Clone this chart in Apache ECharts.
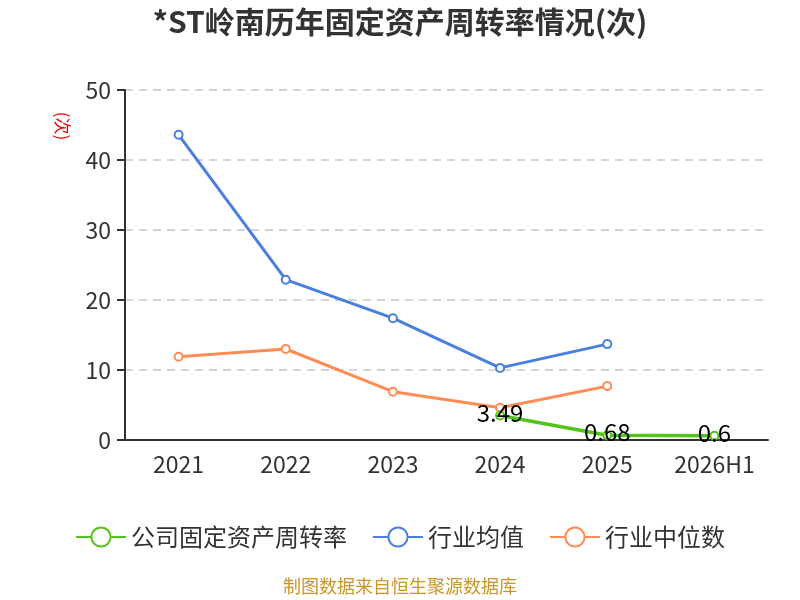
<!DOCTYPE html>
<html>
<head>
<meta charset="utf-8">
<script src="https://cdn.jsdelivr.net/npm/echarts@6/dist/echarts.min.js"></script>
<style>
html, body { margin: 0; padding: 0; }
#chart { width: 800px; height: 600px; }
</style>
</head>
<body>
<div id="chart"></div>
<script>
// 数据
var years = ['2021', '2022', '2023', '2024', '2025', '2026H1'];
var companyRate = [null, null, null, 3.49, 0.68, 0.6];
var industryAvg = [43.6, 22.9, 17.4, 10.3, 13.7, null];
var industryMedian = [11.9, 13.0, 6.9, 4.6, 7.7, null];

var myChart = echarts.init(document.getElementById('chart'));
var font = '"Noto Sans CJK SC", "Noto Sans", sans-serif';

var option = {
	textStyle: { fontFamily: font },
	title: {
		text: '*ST岭南历年固定资产周转率情况(次)',
		left: 'center',
		top: 2,
		textStyle: { fontSize: 30, fontWeight: 'bold', color: '#333', fontFamily: font }
	},
	grid: { left: 125, right: 32, top: 90, bottom: 160 },
	legend: {
		bottom: 46,
		itemWidth: 50,
		itemHeight: 24,
		itemGap: 25,
		textStyle: { fontSize: 24, color: '#333', fontFamily: font },
		data: ['公司固定资产周转率', '行业均值', '行业中位数']
	},
	graphic: [{
		type: 'text',
		x: 62,
		y: 126,
		rotation: -Math.PI / 2,
		style: { text: '(次)', fill: '#e00', fontSize: 17, fontFamily: font, textAlign: 'center', textVerticalAlign: 'middle' }
	}, {
		type: 'text',
		left: 'center',
		top: 577,
		style: { text: '制图数据来自恒生聚源数据库', fill: '#c8962a', fontSize: 18, fontFamily: font }
	}],
	xAxis: {
		type: 'category',
		data: years,
		boundaryGap: true,
		axisLine: { lineStyle: { color: '#333', width: 2 } },
		axisTick: { length: 8, lineStyle: { color: '#333', width: 2 } },
		axisLabel: { fontSize: 23, color: '#333', margin: 13 }
	},
	yAxis: {
		type: 'value',
		min: 0,
		max: 50,
		interval: 10,
		axisLine: { show: true, lineStyle: { color: '#333', width: 2 } },
		axisTick: { show: true, length: 8, lineStyle: { color: '#333', width: 2 } },
		axisLabel: { fontSize: 23, color: '#333', margin: 14 },
		splitLine: { lineStyle: { type: [8, 6], color: '#c8c8c8', width: 1.5 } }
	},
	series: [{
		name: '公司固定资产周转率',
		type: 'line',
		data: companyRate,
		symbol: 'emptyCircle',
		symbolSize: 8,
		itemStyle: { color: '#52c41a' },
		lineStyle: { width: 3.5 },
		label: {
			show: true,
			position: 'inside',
			offset: [0, -3],
			fontSize: 24,
			color: '#000'
		},
		z: 5
	}, {
		name: '行业均值',
		type: 'line',
		data: industryAvg,
		symbol: 'emptyCircle',
		symbolSize: 8,
		itemStyle: { color: '#4a7fdf' },
		lineStyle: { width: 3 }
	}, {
		name: '行业中位数',
		type: 'line',
		data: industryMedian,
		symbol: 'emptyCircle',
		symbolSize: 8,
		itemStyle: { color: '#ff8c55' },
		lineStyle: { width: 3 }
	}]
};

myChart.setOption(option);
</script>
</body>
</html>
